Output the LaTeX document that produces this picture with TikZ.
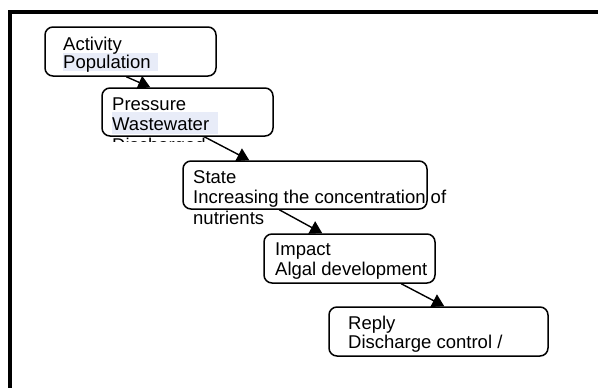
\documentclass[tikz,border=0pt]{standalone}
\usepackage{fontspec}
\setmainfont{Liberation Sans}
\usetikzlibrary{arrows.meta}
\definecolor{hl}{HTML}{E8ECF8}
\tikzset{
  box/.style={draw=black, line width=1.5pt, rounded corners=8pt, fill=none, inner sep=0pt},
  txt/.style={anchor=base west, inner sep=0pt, font=\fontsize{18.5}{20}\selectfont},
  arr/.style={line width=1.4pt, -{Triangle[length=12pt,width=14pt]}},
}
\begin{document}
\begin{tikzpicture}[x=1pt,y=-1pt]
\useasboundingbox (0,0) rectangle (598,388);
\clip (0,0) rectangle (598,388);
% outer frame
\draw[line width=4pt] (10,400) -- (10,12) -- (610,12);
% highlights
\fill[hl] (63,53) rectangle (158,71);
\fill[hl] (112,112) rectangle (218,134);
% boxes
\node[box, minimum width=171pt, minimum height=49pt] (b1) at (130.5,51.5) {};
\node[box, minimum width=171pt, minimum height=48pt] (b2) at (187.5,112) {};
\node[box, minimum width=244pt, minimum height=48pt] (b3) at (305,185) {};
\node[box, minimum width=171pt, minimum height=49pt] (b4) at (349.5,258.5) {};
\node[box, minimum width=219pt, minimum height=49pt] (b5) at (438.5,331.5) {};
% texts
\node[txt] (t1a) at (63,50) {Activity};
\node[txt] (t1b) at (63,68) {Population};
\node[txt] (t2a) at (112,110) {Pressure};
\node[txt] (t2b) at (112,130) {Wastewater};
\begin{scope}
\clip (100,137.5) rectangle (260,141.8);
\node[txt] (t2c) at (112,151) {Discharged};
\end{scope}
\node[txt] (t3a) at (193,183) {State};
\node[txt] (t3b) at (193,203) {Increasing the concentration of};
\node[txt] (t3c) at (193,224) {nutrients};
\node[txt] (t4a) at (275,255) {Impact};
\node[txt] (t4b) at (275,275) {Algal development};
\node[txt] (t5a) at (348,329) {Reply};
\node[txt] (t5b) at (348,348) {Discharge control /};
% connectors
\draw[arr] ([xshift=82pt]b1.south west) -- ([xshift=49pt]b2.north west);
\draw[arr] ([xshift=103pt]b2.south west) -- ([xshift=67pt]b3.north west);
\draw[arr] ([xshift=97pt]b3.south west) -- ([xshift=59pt]b4.north west);
\draw[arr] ([xshift=138pt]b4.south west) -- ([xshift=116pt]b5.north west);
\end{tikzpicture}
\end{document}
